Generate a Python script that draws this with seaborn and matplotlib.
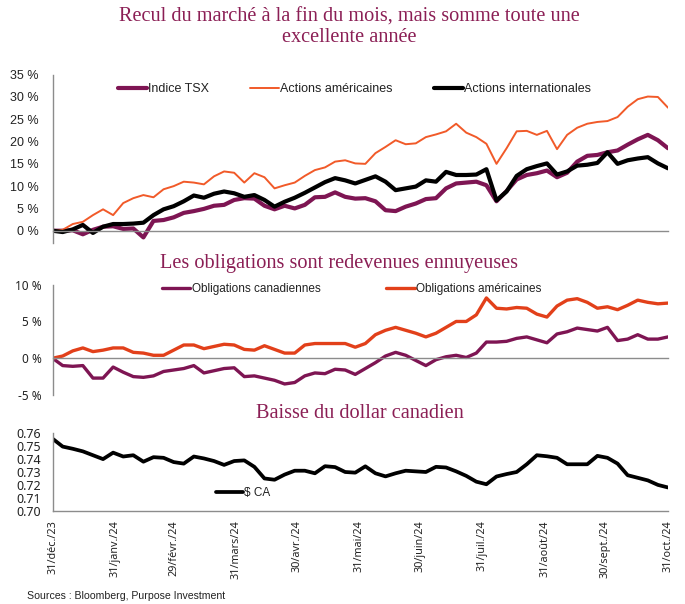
import numpy as np
import pandas as pd
import matplotlib
matplotlib.use("Agg")
import matplotlib.pyplot as plt
import seaborn as sns

# ---------------- data (5-day sampling) ----------------
dates = pd.date_range("2023-12-31", "2024-10-31", freq="5D")

tsx = [0, 0.0, 0.1, -0.8, 0.2, 0.9, 1.0, 0.4, 0.5, -1.5,
       2.2, 2.4, 3.0, 4.0, 4.4, 4.9, 5.6, 5.8, 6.9, 7.3,
       7.2, 5.6, 4.8, 5.6, 5.0, 5.8, 7.5, 7.6, 8.6, 7.6,
       7.2, 7.3, 6.6, 4.6, 4.4, 5.4, 6.1, 7.1, 7.3, 9.5,
       10.6, 10.8, 11.0, 10.2, 6.6, 8.9, 11.5, 12.5, 12.9, 13.5,
       12.0, 13.0, 15.5, 16.8, 17.0, 17.6, 18.0, 19.3, 20.5, 21.5,
       20.3, 18.5]

us_equities = [0, 0.2, 1.5, 2.0, 3.5, 4.8, 3.5, 6.2, 7.3, 8.0,
               7.5, 9.3, 10.0, 11.0, 10.8, 10.4, 12.2, 13.3, 13.0, 10.8,
               12.9, 12.0, 9.5, 10.2, 10.8, 12.3, 13.6, 14.2, 15.5, 15.8,
               15.1, 15.0, 17.4, 18.8, 20.3, 19.4, 19.6, 21.0, 21.6, 22.3,
               24.0, 22.0, 21.0, 19.5, 15.0, 18.5, 22.3, 22.4, 21.5, 22.4,
               18.3, 21.5, 23.1, 24.0, 24.4, 24.6, 25.5, 27.8, 29.5, 30.1,
               30.0, 27.6]

intl_equities = [0, -0.3, 0.3, 1.3, -0.5, 0.9, 1.5, 1.5, 1.6, 1.8,
                 3.5, 4.8, 5.5, 6.6, 7.9, 7.4, 8.3, 8.8, 8.4, 7.6,
                 8.0, 6.9, 5.4, 6.5, 7.4, 8.5, 9.7, 10.9, 11.8, 11.3,
                 10.6, 11.4, 12.2, 11.0, 9.1, 9.5, 9.9, 11.3, 11.0, 13.2,
                 12.5, 12.5, 12.6, 13.8, 6.8, 8.8, 12.3, 13.8, 14.5, 15.1,
                 12.6, 13.3, 14.6, 14.8, 15.2, 17.6, 15.0, 15.8, 16.2, 16.5,
                 15.1, 14.0]

can_bonds = [0, -1.0, -1.1, -1.0, -2.7, -2.7, -1.2, -1.9, -2.5, -2.6,
             -2.4, -1.8, -1.6, -1.4, -1.0, -2.0, -1.7, -1.4, -1.3, -2.5,
             -2.4, -2.7, -3.0, -3.5, -3.3, -2.4, -2.0, -2.1, -1.5, -1.6,
             -2.2, -1.4, -0.6, 0.3, 0.8, 0.4, -0.3, -1.0, -0.2, 0.2,
             0.4, 0.1, 0.7, 2.2, 2.2, 2.3, 2.7, 2.9, 2.5, 2.1,
             3.3, 3.6, 4.1, 3.9, 3.7, 4.2, 2.4, 2.6, 3.2, 2.6,
             2.6, 2.9]

us_bonds = [0, 0.3, 1.0, 1.4, 0.9, 1.1, 1.4, 1.4, 0.8, 0.7,
            0.4, 0.4, 1.1, 1.8, 1.8, 1.3, 1.6, 1.9, 1.8, 1.2,
            1.1, 1.7, 1.2, 0.7, 0.7, 1.8, 2.0, 2.0, 2.0, 2.0,
            1.5, 2.0, 3.2, 3.8, 4.2, 3.8, 3.4, 2.9, 3.4, 4.2,
            5.0, 5.0, 5.9, 8.2, 6.8, 6.7, 6.9, 6.8, 6.0, 5.6,
            7.1, 7.9, 8.1, 7.6, 6.8, 7.0, 6.6, 7.2, 7.9, 7.6,
            7.4, 7.5]

cad_usd = [0.7558, 0.7497, 0.7480, 0.7460, 0.7430, 0.7400, 0.7450, 0.7420, 0.7430, 0.7380,
           0.7415, 0.7410, 0.7377, 0.7365, 0.7420, 0.7405, 0.7385, 0.7355, 0.7385, 0.7390,
           0.7340, 0.7250, 0.7240, 0.7280, 0.7310, 0.7310, 0.7290, 0.7345, 0.7338, 0.7300,
           0.7295, 0.7344, 0.7290, 0.7266, 0.7290, 0.7310, 0.7305, 0.7300, 0.7340, 0.7335,
           0.7305, 0.7270, 0.7225, 0.7205, 0.7265, 0.7284, 0.7300, 0.7360, 0.7430, 0.7422,
           0.7410, 0.7360, 0.7360, 0.7360, 0.7425, 0.7410, 0.7365, 0.7275, 0.7255, 0.7235,
           0.7200, 0.7180]

month_ticks = ["2023-12-31", "2024-01-31", "2024-02-29", "2024-03-31", "2024-04-30",
               "2024-05-31", "2024-06-30", "2024-07-31", "2024-08-31", "2024-09-30",
               "2024-10-31"]
month_labels = ["31/déc./23", "31/janv./24", "29/févr./24", "31/mars/24", "30/avr./24",
                "31/mai/24", "30/juin/24", "31/juil./24", "31/août/24", "30/sept./24",
                "31/oct./24"]

titles = ["Recul du marché à la fin du mois, mais somme toute une",
          "excellente année",
          "Les obligations sont redevenues ennuyeuses",
          "Baisse du dollar canadien"]
source_text = "Sources : Bloomberg, Purpose Investment"

# ---------------- style ----------------
sns.set_style("white")
plt.rcParams["font.family"] = ["Liberation Sans", "DejaVu Sans"]

PURPLE = "#7e1553"
ORANGE = "#f15a29"
REDOR = "#e2401a"
BLACK = "#000000"
TITLE_C = "#8b1f55"
AXIS_C = "#8c8c8c"
TXT_C = "#222222"

W, H = 685, 604
fig = plt.figure(figsize=(W / 100, H / 100), dpi=100)


def add_ax(l, t, r, b):
    return fig.add_axes([l / W, 1 - b / H, (r - l) / W, (b - t) / H])


ax1 = add_ax(52.6, 74.7, 668, 243.2)
ax2 = add_ax(52.6, 284.7, 668, 395)
ax3 = add_ax(52.6, 433.3, 668, 510.7)

# ---------------- panel 1 ----------------
df1 = pd.DataFrame({"date": dates, "Indice TSX": tsx,
                    "Actions américaines": us_equities,
                    "Actions internationales": intl_equities})
sns.lineplot(data=df1, x="date", y="Indice TSX", ax=ax1, color=PURPLE, lw=3.0,
             label="Indice TSX", legend=False)
sns.lineplot(data=df1, x="date", y="Actions américaines", ax=ax1, color=ORANGE, lw=1.4,
             label="Actions américaines", legend=False)
sns.lineplot(data=df1, x="date", y="Actions internationales", ax=ax1, color=BLACK, lw=3.0,
             label="Actions internationales", legend=False)
ax1.set_ylim(-2.8, 35)
ax1.set_yticks(range(0, 36, 5))
ax1.set_yticklabels([f"{v} %" for v in range(0, 36, 5)], fontsize=9)

# ---------------- panel 2 ----------------
df2 = pd.DataFrame({"date": dates, "Obligations canadiennes": can_bonds,
                    "Obligations américaines": us_bonds})
sns.lineplot(data=df2, x="date", y="Obligations canadiennes", ax=ax2, color=PURPLE, lw=2.4,
             label="Obligations canadiennes", legend=False)
sns.lineplot(data=df2, x="date", y="Obligations américaines", ax=ax2, color=REDOR, lw=2.4,
             label="Obligations américaines", legend=False)
ax2.set_ylim(-5, 10)
ax2.set_yticks([-5, 0, 5, 10])
ax2.set_yticklabels([f"{v} %" for v in [-5, 0, 5, 10]], fontsize=8.5,
                    family=["Noto Sans", "DejaVu Sans"])

# ---------------- panel 3 ----------------
df3 = pd.DataFrame({"date": dates, "$ CA": cad_usd})
sns.lineplot(data=df3, x="date", y="$ CA", ax=ax3, color=BLACK, lw=2.7,
             label="$ CA", legend=False)
ax3.set_ylim(0.70, 0.76)
yt3 = [0.70, 0.71, 0.72, 0.73, 0.74, 0.75, 0.76]
ax3.set_yticks(yt3)
ax3.set_yticklabels([f"{v:.2f}" for v in yt3], fontsize=9,
                    family=["Noto Sans", "DejaVu Sans"])

# ---------------- axes cosmetics ----------------
xt = pd.to_datetime(month_ticks)
for ax in (ax1, ax2, ax3):
    ax.set_xlim(pd.Timestamp("2023-12-31"), pd.Timestamp("2024-10-31"))
    ax.set_xticks(xt)
    ax.set_xlabel("")
    ax.set_ylabel("")
    for s in ("top", "right"):
        ax.spines[s].set_visible(False)
    for s in ("left", "bottom"):
        ax.spines[s].set_color(AXIS_C)
        ax.spines[s].set_linewidth(1.0)
    ax.tick_params(axis="y", direction="out", length=4, width=1, color=AXIS_C,
                   labelcolor=TXT_C, pad=4)
    ax.grid(False)

ax1.tick_params(axis="y", pad=6)
ax1.spines["bottom"].set_position(("data", 0))
ax2.spines["bottom"].set_position(("data", 0))
ax1.tick_params(axis="x", direction="out", length=8, width=1, color=AXIS_C, labelbottom=False)
ax2.tick_params(axis="x", direction="out", length=4, width=1, color=AXIS_C, labelbottom=False)
ax3.tick_params(axis="x", direction="out", length=5, width=1, color=AXIS_C,
                labelcolor=TXT_C, pad=2)
ax3.set_xticklabels(month_labels, rotation=90, fontsize=7.8, va="top", ha="center",
                    family=["Noto Sans", "DejaVu Sans"])

# ---------------- legends ----------------
leg1 = ax1.legend(handles=ax1.lines[:3], loc="center left", ncol=3, frameon=False,
                  bbox_to_anchor=(118 / W, 1 - 89 / H), bbox_transform=fig.transFigure,
                  fontsize=9, handlelength=2.3, handletextpad=0.1, columnspacing=3.3,
                  borderpad=0, borderaxespad=0)
for t in leg1.get_texts():
    t.set_color(TXT_C)
leg2 = ax2.legend(handles=ax2.lines[:2], loc="center left", ncol=2, frameon=False,
                  bbox_to_anchor=(162 / W, 1 - 289 / H), bbox_transform=fig.transFigure,
                  fontsize=8.5, handlelength=2.4, handletextpad=0.1, columnspacing=5.6,
                  borderpad=0, borderaxespad=0)
for t in leg2.get_texts():
    t.set_color(TXT_C)
leg3 = ax3.legend(handles=ax3.lines[:1], loc="center left", frameon=False,
                  bbox_to_anchor=(216 / W, 1 - 493 / H), bbox_transform=fig.transFigure,
                  fontsize=8.5, handlelength=2.3, handletextpad=0.1,
                  borderpad=0, borderaxespad=0)
for t in leg3.get_texts():
    t.set_color(TXT_C)

# ---------------- titles & source ----------------
serif = ["Liberation Serif", "DejaVu Serif"]
fig.text(349.5 / W, 1 - 17 / H, titles[0], ha="center", va="center", fontsize=14.6,
         color=TITLE_C, family=serif)
fig.text(349.5 / W, 1 - 38 / H, titles[1], ha="center", va="center", fontsize=14.6,
         color=TITLE_C, family=serif)
fig.text(338.5 / W, 1 - 263 / H, titles[2], ha="center", va="center", fontsize=14.6,
         color=TITLE_C, family=serif)
fig.text(359.5 / W, 1 - 414 / H, titles[3], ha="center", va="center", fontsize=14.6,
         color=TITLE_C, family=serif)
fig.text(27 / W, 1 - 596 / H, source_text, ha="left", va="center", fontsize=7.6,
         color=TXT_C)

fig.savefig("out.png", dpi=100)
